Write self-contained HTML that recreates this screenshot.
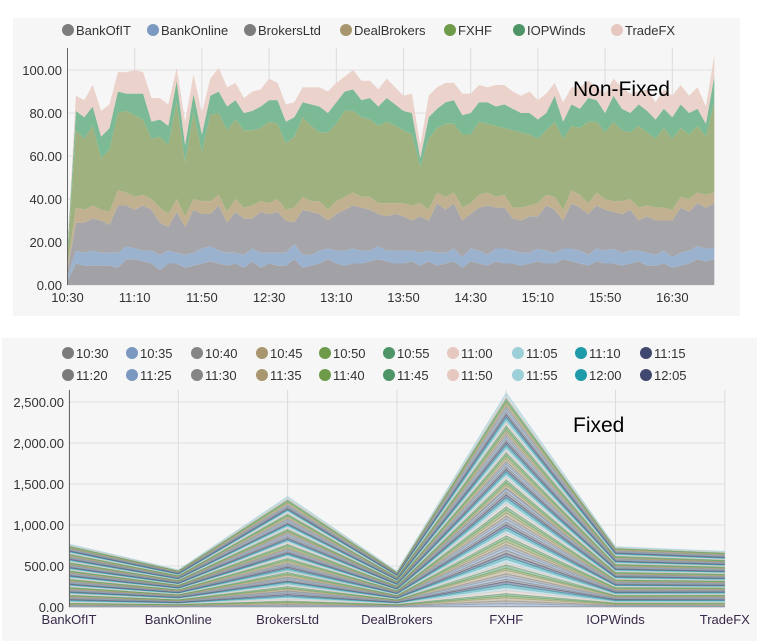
<!DOCTYPE html>
<html><head><meta charset="utf-8">
<style>
html,body{margin:0;padding:0;background:#fff;}
body{width:762px;height:644px;overflow:hidden;font-family:"Liberation Sans",sans-serif;}
svg{position:absolute;left:0;top:0;}
</style></head>
<body>
<svg id="chart" width="762" height="644" viewBox="0 0 762 644">
  <rect x="13" y="18" width="727" height="298" fill="#f6f6f6"/>
  <rect x="2" y="338" width="755" height="303" fill="#f6f6f6"/>
  <g id="topChart"></g>
  <g id="botChart"></g>
  <text x="573" y="96" font-family="Liberation Sans, sans-serif" font-size="21" fill="#000">Non-Fixed</text>
  <text x="573" y="432" font-family="Liberation Sans, sans-serif" font-size="21" fill="#000">Fixed</text>
</svg>
<script>
const companies = ["BankOfIT","BankOnline","BrokersLtd","DealBrokers","FXHF","IOPWinds","TradeFX"];
const bankOfIT = [2,10,9,9,9,9,8,12,12,11,10,7,10,10,8,9,10,11,10,9,10,8,11,8,10,9,9,12,8,9,10,12,10,9,10,10,11,12,11,10,10,11,9,11,9,10,11,8,11,10,9,11,10,10,9,10,11,10,10,12,11,10,9,11,10,10,9,10,11,9,9,10,8,9,10,12,11,12];
const bankOnline = [2,6,6,7,6,6,7,6,5,5,6,7,6,5,6,6,7,7,6,6,5,6,6,7,5,6,6,7,6,5,6,5,6,7,7,6,5,6,5,6,6,5,6,5,6,5,6,5,6,6,5,6,7,6,6,5,6,6,5,5,6,6,5,6,6,7,6,6,5,6,5,6,5,6,6,6,6,5];
const brokersLtd = [3,13,14,15,15,13,22,19,18,21,19,15,11,19,13,20,16,15,21,14,19,17,14,19,18,19,15,10,21,20,17,13,17,19,20,20,19,15,16,17,16,14,17,14,23,20,21,17,16,20,23,19,19,15,15,17,15,21,20,13,21,20,19,20,19,17,18,19,14,17,16,14,17,21,18,20,19,21];
const dealBrokers = [2,7,6,6,5,6,7,6,6,5,5,7,6,6,5,5,6,6,5,5,6,5,6,5,5,6,5,7,6,5,6,5,6,6,6,5,6,5,6,5,6,7,6,5,5,6,5,6,5,6,6,5,6,5,6,5,6,5,6,5,6,6,5,6,5,5,6,5,6,5,6,6,5,5,6,5,6,5];
const fxhf = [5,36,33,37,24,29,36,38,38,35,28,33,32,45,25,40,23,40,38,38,37,36,35,34,38,35,31,33,37,35,32,36,36,40,38,37,36,36,38,36,34,33,17,33,30,34,32,34,32,34,32,33,31,36,35,33,30,30,35,33,30,31,38,33,31,37,33,31,38,34,32,37,33,32,30,31,27,42];
const iopWinds = [3,9,10,9,10,10,10,8,10,12,8,8,9,10,8,9,8,9,10,11,9,8,9,10,10,11,10,9,7,10,12,9,10,9,10,8,10,9,11,10,9,10,4,10,9,10,11,9,10,9,10,9,11,10,9,10,9,8,12,8,10,9,11,10,9,12,10,9,10,10,9,9,10,11,10,8,6,12];
const tradeFX = [2,7,8,10,12,11,9,10,11,10,11,10,10,6,11,9,10,8,11,9,8,7,9,8,10,8,8,7,7,8,9,10,9,7,9,9,8,8,9,8,7,9,6,10,10,9,8,10,9,8,7,10,9,8,8,10,9,9,6,9,8,10,8,6,9,8,10,9,6,10,8,9,10,9,8,10,8,10];
const topTicks = [0,20,40,60,80,100];
const botTicks = [0,500,1000,1500,2000,2500];
const xTickLabels = ["10:30","11:10","11:50","12:30","13:10","13:50","14:30","15:10","15:50","16:30"];

const NS="http://www.w3.org/2000/svg";
function mk(tag,attrs,parent){const e=document.createElementNS(NS,tag);for(const k in attrs)e.setAttribute(k,attrs[k]);parent.appendChild(e);return e;}
const series=[bankOfIT,bankOnline,brokersLtd,dealBrokers,fxhf,iopWinds,tradeFX];
const N=bankOfIT.length;
const times=[];for(let i=0;i<N;i++){const m=10*60+30+5*i;times.push(Math.floor(m/60)+":"+String(m%60).padStart(2,"0"));}

// ---------- TOP chart ----------
const topG=document.getElementById("topChart");
const tx0=67.5, tStep=8.4, ty0=285, tyK=2.15;
const tX=i=>tx0+i*tStep, tY=v=>ty0-v*tyK;
const topFill=["#a2a2a6","#9bb2cf","#a6a6aa","#c2b190","#9fb17e","#7cb995","#ebd3cc"];
const topDot=["#7d7d7d","#7c99c1","#7d7d7d","#a8966e","#6f9a4a","#4d9466","#e6c8c0"];
topTicks.forEach(t=>{
  const l=mk("line",{x1:67,x2:712,y1:tY(t),y2:tY(t),stroke:"#e0e0e0","stroke-width":1},topG);
  
  
  const tx=mk("text",{x:62,y:tY(t)+5,"text-anchor":"end","font-size":13,fill:"#333"},topG);
  tx.textContent=t.toFixed(2);
  
  
});
xTickLabels.forEach((lab,k)=>{
  const x=tX(k*8);
  const l=mk("line",{x1:x,x2:x,y1:48,y2:285,stroke:"#dcdcdc","stroke-width":1},topG);
  
  
  const t=mk("text",{x:x,y:302,"text-anchor":"middle","font-size":13,fill:"#333"},topG);
  t.textContent=lab;
  
  
});
let cum=new Array(N).fill(0);
series.forEach((s,si)=>{
  const lower=cum.slice();const upper=cum.map((c,i)=>c+s[i]);
  let d="M"+upper.map((v,i)=>tX(i)+","+tY(v)).join(" L");
  for(let i=N-1;i>=0;i--)d+=" L"+tX(i)+","+tY(lower[i]);
  d+="Z";
  const p=mk("path",{d:d,fill:topFill[si],stroke:"none"},topG);
  
  
  cum=upper;
});
const yAxTop=mk("line",{x1:67.5,x2:67.5,y1:48,y2:285,stroke:"#666","stroke-width":1},topG);


const legX=[68,153,250,346,450,519,617];
companies.forEach((c,i)=>{
  const g=mk("g",{},topG);
  
  
  mk("circle",{cx:legX[i],cy:30,r:6,fill:topDot[i]},g);
  const t=mk("text",{x:legX[i]+8,y:35,"font-size":13,fill:"#333"},g);
  t.textContent=c;
});

// ---------- BOTTOM chart ----------
const botG=document.getElementById("botChart");
const bx0=69, bStep=109.3, by0=607, byK=41/500;
const bX=j=>bx0+j*bStep, bY=v=>by0-v*byK;
const palette=["#7b7b7b","#7b98c0","#858585","#a8966e","#6f9a4a","#4d9466","#e5c8c0","#9ccfd8","#1e9aa8","#404870"];
botTicks.forEach(t=>{
  const l=mk("line",{x1:69,x2:725,y1:bY(t),y2:bY(t),stroke:"#e0e0e0","stroke-width":1},botG);
  
  
  const tx=mk("text",{x:64,y:bY(t)+5,"text-anchor":"end","font-size":13,fill:"#333"},botG);
  tx.textContent=t.toLocaleString("en-US",{minimumFractionDigits:2,maximumFractionDigits:2});
  
  
});
companies.forEach((c,j)=>{
  const l=mk("line",{x1:bX(j),x2:bX(j),y1:390,y2:607,stroke:"#dcdcdc","stroke-width":1},botG);
  
  
  const t=mk("text",{x:bX(j),y:624,"text-anchor":"middle","font-size":13,fill:"#3a2a4a"},botG);
  t.textContent=c;
  
  
});
let bc=new Array(companies.length).fill(0);
for(let i=0;i<N;i++){
  const vals=series.map(s=>s[i]);
  const lower=bc.slice();const upper=bc.map((c,j)=>c+vals[j]);
  let d="M"+upper.map((v,j)=>bX(j)+","+bY(v)).join(" L");
  for(let j=companies.length-1;j>=0;j--)d+=" L"+bX(j)+","+bY(lower[j]);
  d+="Z";
  const col=palette[i%10];
  const p=mk("path",{d:d,fill:col,"fill-opacity":0.45,stroke:"none"},botG);
  
  
  const ln=mk("polyline",{points:upper.map((v,j)=>bX(j)+","+bY(v)).join(" "),fill:"none",stroke:col,"stroke-opacity":0.6,"stroke-width":1},botG);
  
  
  bc=upper;
}
const yAxBot=mk("line",{x1:69.5,x2:69.5,y1:390,y2:607,stroke:"#666","stroke-width":1},botG);


const lgX=[68,132,197,262,325,389,453,518,581,646];
for(let i=0;i<20;i++){
  const r=Math.floor(i/10),c=i%10;
  const g=mk("g",{},botG);
  
  
  mk("circle",{cx:lgX[c],cy:353+r*22,r:6,fill:palette[c]},g);
  const t=mk("text",{x:lgX[c]+8,y:358+r*22,"font-size":13,fill:"#333"},g);
  t.textContent=times[i];
}
</script>
</body></html>
